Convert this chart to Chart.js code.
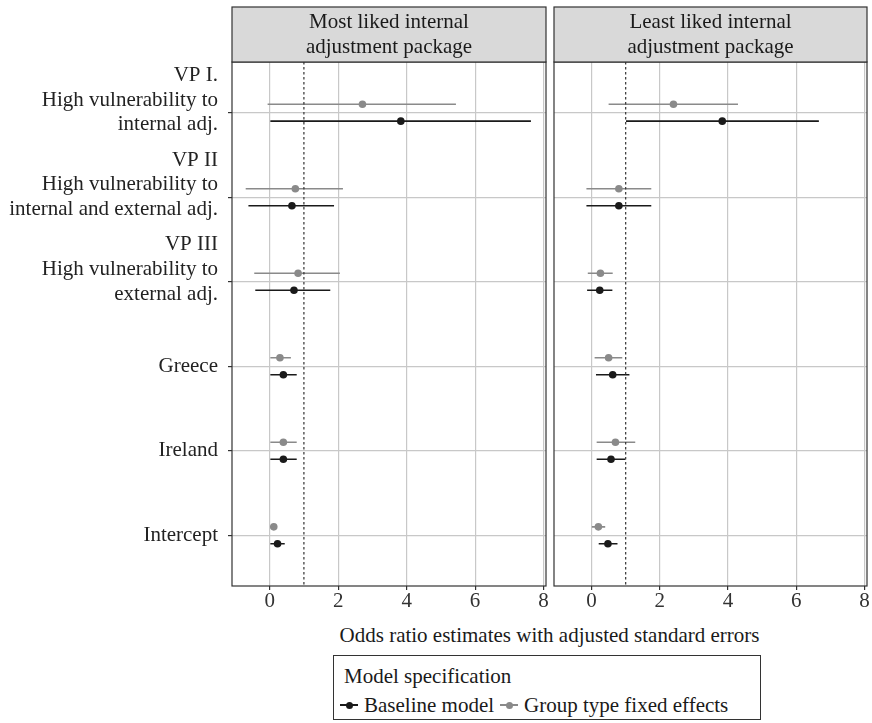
<!DOCTYPE html>
<html>
<head>
<meta charset="utf-8">
<script src="https://cdn.jsdelivr.net/npm/chart.js@4.4.1/dist/chart.umd.min.js"></script>
<style>
  html, body { margin: 0; padding: 0; background: #fff; }
  #wrap { position: relative; width: 872px; height: 723px; font-family: "Liberation Serif", serif; color: #1a1a1a; }
  #left { position: absolute; left: 0; top: 0; }
  #right { position: absolute; left: 550px; top: 0; }
  #xtitle { position: absolute; left: 232px; width: 635px; top: 622px; line-height: 26px; text-align: center; font-size: 21px; }
  #legend { position: absolute; left: 333px; top: 655px; width: 428px; height: 65px; border: 1px solid #333; box-sizing: border-box; font-size: 21px; line-height: 24px; }
  #legend .ttl { position: absolute; left: 10px; top: 8px; }
  #legend .item { position: absolute; top: 37px; display: flex; align-items: center; }
  #legend .key { position: relative; width: 18px; height: 24px; margin-right: 6px; }
  #legend .key i { position: absolute; left: 0; top: 11px; width: 18px; height: 1.6px; }
  #legend .key b { position: absolute; left: 5.5px; top: 9px; width: 7px; height: 7px; border-radius: 50%; }
</style>
</head>
<body>
<div id="wrap">
  <canvas id="left" width="550" height="620"></canvas>
  <canvas id="right" width="322" height="620"></canvas>
  <div id="xtitle">Odds ratio estimates with adjusted standard errors</div>
  <div id="legend">
    <div class="ttl">Model specification</div>
    <div class="item" style="left:6px"><span class="key"><i style="background:#1a1a1a"></i><b style="background:#1a1a1a"></b></span>Baseline model</div>
    <div class="item" style="left:166px"><span class="key"><i style="background:#8a8a8a"></i><b style="background:#8a8a8a"></b></span>Group type fixed effects</div>
  </div>
</div>
<script>
// Row labels (top to bottom); trailing empty line keeps the ggplot-style placement
const categories = [
  ["VP I.", "High vulnerability to", "internal adj.", ""],
  ["VP II", "High vulnerability to", "internal and external adj.", ""],
  ["VP III", "High vulnerability to", "external adj.", ""],
  ["Greece"],
  ["Ireland"],
  ["Intercept"]
];
const xTicks = [0, 2, 4, 6, 8];
const refValue = 1;

// Most liked internal adjustment package
const mostBaseEst = [3.83, 0.65, 0.71, 0.40, 0.40, 0.23];
const mostBaseLo  = [0.02, -0.62, -0.42, 0.02, 0.02, 0.02];
const mostBaseHi  = [7.63, 1.88, 1.77, 0.79, 0.79, 0.44];
const mostGroupEst = [2.71, 0.75, 0.83, 0.30, 0.40, 0.12];
const mostGroupLo  = [-0.06, -0.70, -0.45, 0.02, 0.02, 0.08];
const mostGroupHi  = [5.44, 2.14, 2.05, 0.62, 0.79, 0.16];

// Least liked internal adjustment package
const leastBaseEst = [3.83, 0.80, 0.24, 0.62, 0.57, 0.48];
const leastBaseLo  = [1.01, -0.15, -0.13, 0.13, 0.15, 0.21];
const leastBaseHi  = [6.66, 1.75, 0.61, 1.11, 0.99, 0.76];
const leastGroupEst = [2.40, 0.80, 0.26, 0.50, 0.70, 0.20];
const leastGroupLo  = [0.50, -0.15, -0.11, 0.09, 0.15, 0.01];
const leastGroupHi  = [4.29, 1.75, 0.62, 0.90, 1.28, 0.40];

const BLACK = '#1a1a1a';
const GREY = '#8a8a8a';
const FONT = 'Liberation Serif';
const DODGE = 0.1;
const X_MIN = -1.1, X_MAX = 8.07;
const Y_MIN = -0.6, Y_MAX = categories.length - 0.4;

function segments(lo, hi, off) {
  const pts = [];
  lo.forEach((l, i) => {
    pts.push({ x: l, y: i + off }, { x: hi[i], y: i + off }, { x: null, y: null });
  });
  return pts;
}
function points(est, off) {
  return est.map((v, i) => ({ x: v, y: i + off }));
}

// Panel frame and facet strip
const panelPlugin = {
  id: 'panel',
  afterDraw(chart, args, opts) {
    const { ctx, chartArea: a } = chart;
    ctx.save();
    ctx.strokeStyle = '#333';
    ctx.lineWidth = 1.2;
    ctx.strokeRect(a.left, a.top, a.right - a.left, a.bottom - a.top);
    const top = 7;
    ctx.fillStyle = '#d9d9d9';
    ctx.fillRect(a.left, top, a.right - a.left, a.top - top);
    ctx.strokeRect(a.left, top, a.right - a.left, a.top - top);
    ctx.fillStyle = BLACK;
    ctx.font = '21px "' + FONT + '"';
    ctx.textAlign = 'center';
    ctx.textBaseline = 'middle';
    const cx = (a.left + a.right) / 2;
    opts.lines.forEach((t, i) => ctx.fillText(t, cx, 22 + i * 25));
    ctx.restore();
  }
};

function makePanel(id, strip, baseEst, baseLo, baseHi, grpEst, grpLo, grpHi, withAxis) {
  return new Chart(document.getElementById(id), {
    type: 'scatter',
    data: {
      datasets: [
        { data: [{ x: refValue, y: Y_MIN }, { x: refValue, y: Y_MAX }], showLine: true,
          borderColor: '#333', borderWidth: 1.2, borderDash: [2.5, 2.5], pointRadius: 0 },
        { data: segments(grpLo, grpHi, -DODGE), showLine: true, spanGaps: false,
          borderColor: GREY, borderWidth: 1.6, pointRadius: 0 },
        { data: segments(baseLo, baseHi, DODGE), showLine: true, spanGaps: false,
          borderColor: BLACK, borderWidth: 1.6, pointRadius: 0 },
        { data: points(grpEst, -DODGE), pointRadius: 3.8, backgroundColor: GREY, borderColor: GREY, borderWidth: 0 },
        { data: points(baseEst, DODGE), pointRadius: 3.8, backgroundColor: BLACK, borderColor: BLACK, borderWidth: 0 }
      ]
    },
    options: {
      animation: false,
      responsive: false,
      layout: { padding: withAxis ? { left: 6, right: 4, top: 62, bottom: 6 } : { left: 4, right: 5, top: 62, bottom: 6 } },
      plugins: { legend: { display: false }, tooltip: { enabled: false }, panel: { lines: strip } },
      scales: {
        x: {
          type: 'linear', min: X_MIN, max: X_MAX,
          afterBuildTicks: s => { s.ticks = xTicks.map(v => ({ value: v })); },
          afterFit: s => { s.height = 28; s.paddingLeft = 0; s.paddingRight = 0; },
          grid: { color: '#c8c8c8', lineWidth: 1.2, tickLength: 4, tickColor: '#333' },
          border: { display: false },
          ticks: { color: '#333', padding: 1, font: { family: FONT, size: 21, lineHeight: 1.0 }, maxRotation: 0 }
        },
        y: {
          type: 'linear', min: Y_MIN, max: Y_MAX, reverse: true,
          afterBuildTicks: s => { s.ticks = categories.map((c, i) => ({ value: i })); },
          afterFit: s => { s.width = withAxis ? 226 : 0; s.paddingTop = 0; s.paddingBottom = 0; },
          grid: { color: '#c8c8c8', lineWidth: 1.2, tickLength: 4, tickColor: '#333', drawTicks: withAxis },
          border: { display: false },
          ticks: {
            display: withAxis, color: '#222', padding: 10,
            font: { family: FONT, size: 21, lineHeight: 1.167 },
            callback: (v) => categories[v]
          }
        }
      }
    },
    plugins: [panelPlugin]
  });
}

makePanel('left', ['Most liked internal', 'adjustment package'],
  mostBaseEst, mostBaseLo, mostBaseHi, mostGroupEst, mostGroupLo, mostGroupHi, true);
makePanel('right', ['Least liked internal', 'adjustment package'],
  leastBaseEst, leastBaseLo, leastBaseHi, leastGroupEst, leastGroupLo, leastGroupHi, false);
</script>
</body>
</html>
